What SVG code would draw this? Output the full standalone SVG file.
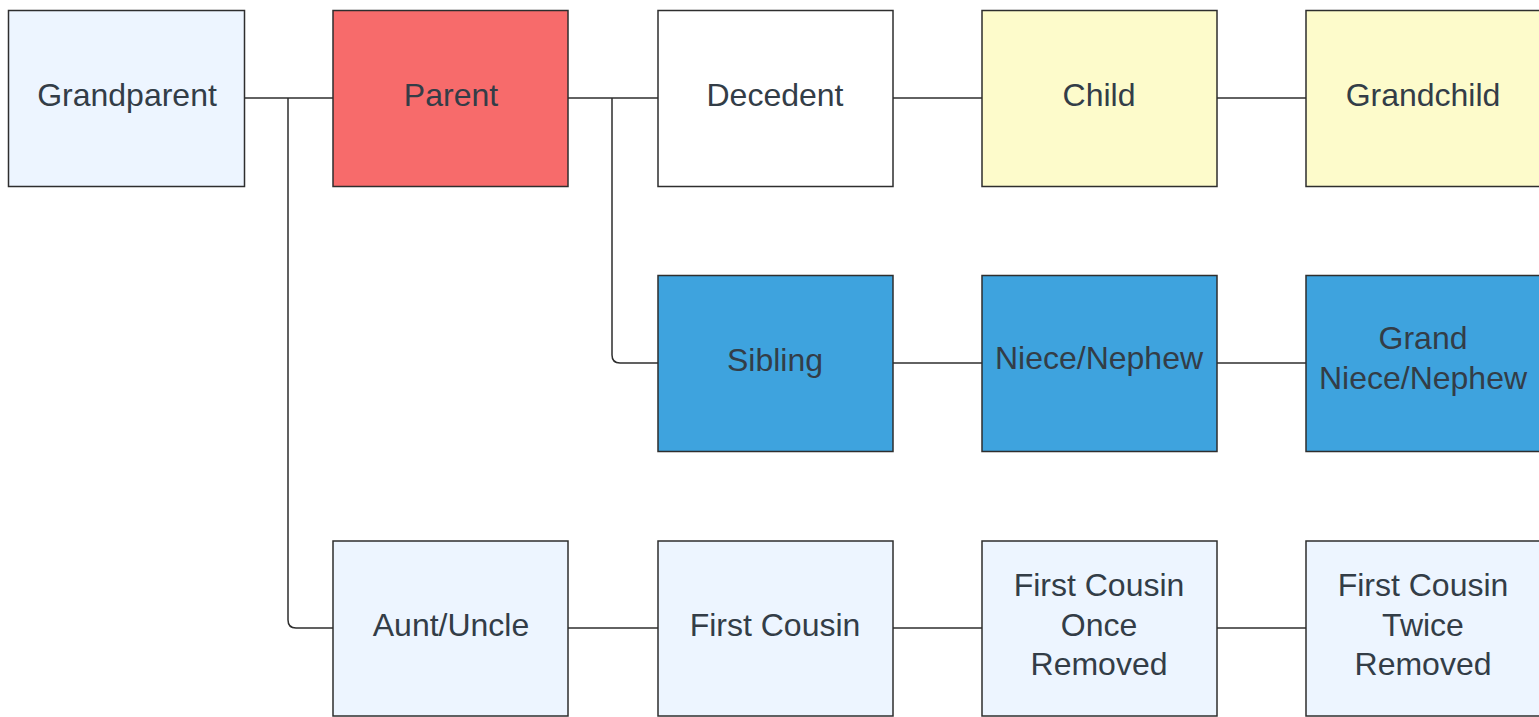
<svg xmlns="http://www.w3.org/2000/svg" width="1539" height="717" viewBox="0 0 1539 717">
<style>
.box{stroke:#2e2e2e;stroke-width:1.5}
.light{fill:#edf5ff}
.red{fill:#f76b6b}
.white{fill:#ffffff}
.yellow{fill:#fdfbcb}
.blue{fill:#3ea3de}
text{font-family:"Liberation Sans",Arial,sans-serif;font-size:32px;fill:#333d47;text-anchor:middle}
.conn path{fill:none;stroke:#2e2e2e;stroke-width:1.5}
</style>
<rect width="1539" height="717" fill="#ffffff"/>
<g class="conn" id="connectors">
<path d="M245,98 H333"/>
<path d="M288,98 V620 Q288,628 296,628 H333"/>
<path d="M568,98 H658"/>
<path d="M612,98 V355 Q612,363 620,363 H658"/>
<path d="M893,98 H982"/>
<path d="M1217,98 H1306"/>
<path d="M893,363 H982"/>
<path d="M1217,363 H1306"/>
<path d="M568,628 H658"/>
<path d="M893,628 H982"/>
<path d="M1217,628 H1306"/>
</g>
<g id="grandparent"><rect class="box light" x="8.5" y="10.5" width="236" height="176"/><text x="127" y="106">Grandparent</text></g>
<g id="parent"><rect class="box red" x="333" y="10.5" width="235" height="176"/><text x="451" y="106">Parent</text></g>
<g id="decedent"><rect class="box white" x="658" y="10.5" width="235" height="176"/><text x="775" y="106">Decedent</text></g>
<g id="child"><rect class="box yellow" x="982" y="10.5" width="235" height="176"/><text x="1099" y="106">Child</text></g>
<g id="grandchild"><rect class="box yellow" x="1306" y="10.5" width="240" height="176"/><text x="1423" y="106">Grandchild</text></g>
<g id="sibling"><rect class="box blue" x="658" y="275.5" width="235" height="176"/><text x="775" y="371">Sibling</text></g>
<g id="niece"><rect class="box blue" x="982" y="275.5" width="235" height="176"/><text x="1099" y="369">Niece/Nephew</text></g>
<g id="grandniece"><rect class="box blue" x="1306" y="275.5" width="240" height="176"/><text x="1423" y="349">Grand</text><text x="1423" y="389">Niece/Nephew</text></g>
<g id="aunt"><rect class="box light" x="333" y="541" width="235" height="175"/><text x="451" y="636">Aunt/Uncle</text></g>
<g id="firstcousin"><rect class="box light" x="658" y="541" width="235" height="175"/><text x="775" y="636">First Cousin</text></g>
<g id="fcor"><rect class="box light" x="982" y="541" width="235" height="175"/><text x="1099" y="596">First Cousin</text><text x="1099" y="636">Once</text><text x="1099" y="675">Removed</text></g>
<g id="fctr"><rect class="box light" x="1306" y="541" width="240" height="175"/><text x="1423" y="596">First Cousin</text><text x="1423" y="636">Twice</text><text x="1423" y="675">Removed</text></g>
</svg>
